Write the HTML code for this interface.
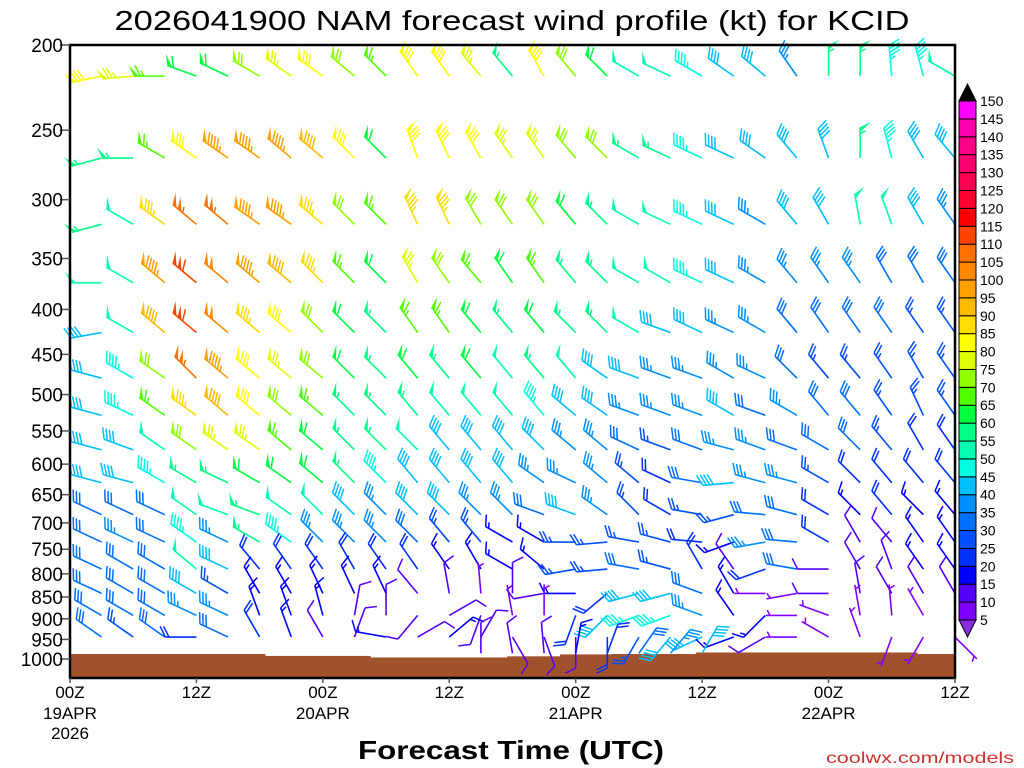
<!DOCTYPE html>
<html><head><meta charset="utf-8"><style>
html,body{margin:0;padding:0;background:#fff;}
svg{display:block;font-family:"Liberation Sans",sans-serif;}
</style></head><body>
<svg id="chart" width="1024" height="768" viewBox="0 0 1024 768" xmlns="http://www.w3.org/2000/svg">
<text x="512" y="30" text-anchor="middle" font-size="28" textLength="795" lengthAdjust="spacingAndGlyphs">2026041900 NAM forecast wind profile (kt) for KCID</text>
<g id="ground"></g>
<g id="barbs"></g>
<g id="axes"></g>
<g id="cbar"></g>
<text x="511" y="759" text-anchor="middle" font-size="26" font-weight="bold" textLength="306" lengthAdjust="spacingAndGlyphs">Forecast Time (UTC)</text>
<text x="1014" y="763" text-anchor="end" font-size="16" fill="#d03030" textLength="188" lengthAdjust="spacingAndGlyphs">coolwx.com/models</text>
</svg>
<script>
const hours=[3,6,9,12,15,18,21,24,27,30,33,36,39,42,45,48,51,54,57,60,63,66,69,72,75,78,81,84];
const levels=[217,269,320,373,425,479,528,578,630,685,736,790,842,892,944,985];
const N=null;
const speedKt=[
[80,75,65,60,60,70,75,80,70,65,80,80,75,55,80,70,60,50,50,45,40,40,35,55,55,45,45,50],
[55,55,65,80,95,95,95,90,80,60,80,80,80,75,75,70,70,55,55,45,40,40,40,40,55,45,40,40],
[55,50,85,105,105,95,95,85,70,65,85,85,70,70,70,60,55,50,50,45,40,35,40,40,50,50,40,35],
[50,50,95,110,100,95,90,85,65,60,75,70,65,60,65,55,55,50,50,45,40,35,35,35,35,30,30,30],
[40,50,90,110,100,85,80,70,60,55,65,65,60,55,60,55,55,50,40,40,35,35,30,30,30,30,25,25],
[40,45,70,105,95,80,75,70,60,55,60,55,60,50,55,50,40,40,35,35,35,35,30,25,25,25,25,25],
[40,45,65,85,90,80,70,65,55,55,55,50,50,50,45,40,40,35,35,35,40,30,35,30,30,25,25,25],
[40,40,50,70,75,75,65,60,55,55,50,40,40,40,40,35,35,30,25,30,35,35,30,30,30,25,20,20],
[40,40,45,55,55,60,60,60,55,45,40,40,40,40,35,35,35,25,20,30,40,35,35,25,20,20,20,20],
[30,30,30,50,50,55,50,50,40,35,40,40,35,35,30,40,35,25,20,25,25,30,30,20,15,20,15,15],
[30,35,30,45,35,55,45,35,35,35,30,25,25,15,15,25,25,25,25,20,15,35,30,20,10,10,15,15],
[30,30,30,50,40,20,20,20,20,20,20,15,15,15,15,25,25,30,25,20,10,20,30,10,10,10,15,15],
[30,30,30,40,25,15,15,15,15,15,10,10,5,10,10,15,20,40,40,30,15,5,5,10,10,10,10,10],
[30,30,30,35,35,15,15,15,10,10,10,10,10,5,5,20,40,45,45,35,15,15,5,5,5,5,5,N],
[30,25,30,20,30,20,15,10,10,15,10,15,10,10,10,10,20,25,40,40,15,10,5,5,5,5,5,5],
[N,N,N,N,N,N,N,N,N,N,N,N,10,10,10,15,20,30,35,40,N,N,N,N,N,N,N,N]
];
const dirDeg=[
[258,265,270,290,295,300,305,305,310,315,325,325,320,320,330,320,315,300,295,300,305,310,325,360,360,355,345,300],
[255,270,300,305,305,305,310,310,315,315,340,335,330,325,325,320,315,300,295,295,295,305,320,340,360,345,330,320],
[255,300,305,310,310,305,305,310,315,315,335,335,330,325,325,320,315,300,295,295,295,300,320,330,350,340,330,325],
[270,300,310,310,310,310,310,315,315,315,330,325,320,325,325,320,315,300,300,295,295,300,320,325,325,330,330,325],
[260,300,310,310,310,310,310,315,315,315,325,325,320,320,320,315,315,300,290,295,295,300,320,325,325,325,325,325],
[285,300,305,315,310,310,310,310,315,315,320,320,320,320,320,320,305,290,290,290,300,295,315,320,320,325,330,325],
[285,295,305,305,310,310,310,310,315,315,320,320,320,320,320,310,305,290,290,290,300,290,300,320,320,325,335,325],
[285,290,305,305,305,305,310,310,315,315,315,320,320,320,315,310,310,295,290,290,285,290,290,300,315,320,330,325],
[285,285,300,300,295,300,305,310,315,315,320,320,320,320,305,295,310,310,295,280,265,285,285,300,315,320,320,320],
[295,295,295,305,290,290,305,315,315,315,315,315,315,315,290,290,305,315,300,280,255,275,285,300,315,320,315,320],
[295,295,295,305,295,300,305,315,315,315,315,320,320,300,300,270,265,280,285,275,250,260,275,300,330,320,325,325],
[295,300,300,310,295,320,325,325,330,325,325,325,330,300,310,260,265,280,285,330,325,250,280,270,330,340,325,325],
[295,300,300,300,300,330,330,335,335,335,320,350,355,360,260,270,230,255,255,290,330,270,260,270,350,330,330,330],
[300,300,300,295,295,340,340,345,10,360,220,60,200,350,360,200,225,250,250,290,325,225,270,290,350,355,330,0],
[305,305,305,270,295,330,340,330,20,280,60,50,30,150,160,180,180,210,220,245,250,240,270,300,340,200,210,135],
[0,0,0,0,0,0,0,0,0,0,0,0,0,350,355,10,20,35,40,30,0,0,0,0,0,0,0,0]
];
const groundHours=[0,18.5,28.5,41.5,46.5,51.4,59.4,80.4,84];
const groundP=[987,992,996,993,988,987,983,987];
const pTicks=[200,250,300,350,400,450,500,550,600,650,700,750,800,850,900,950,1000];
const xTickHours=[0,12,24,36,48,60,72,84];
const xTickLabels=["00Z","12Z","00Z","12Z","00Z","12Z","00Z","12Z"];
const dateLabels=["19APR","","20APR","","21APR","","22APR",""];
const cbarLevels=[5,10,15,20,25,30,35,40,45,50,55,60,65,70,75,80,85,90,95,100,105,110,115,120,125,130,135,140,145,150];
const cbarColors=["#7f00ff","#5500ff","#0000ff","#0030ff","#0050ff","#0070ff","#0090ff","#00bfff","#00ffe0","#00ffb0","#00ff88","#00ff40","#50ff00","#90ff00","#e0ff00","#ffff00","#ffdd00","#ffbb00","#ff9f00","#ff8800","#ff7000","#ff4400","#ff0000","#ff0030","#ff0050","#ff0070","#ff0088","#ff00aa","#ff00ff"];

const NS="http://www.w3.org/2000/svg";
const X0=70,X1=955,Y0=45,Y1=678;
function xs(h){return X0+h*(X1-X0)/84;}
function ys(p){return Y0+381.5*Math.log(p/200);}
function mk(tag,attrs,parent){const e=document.createElementNS(NS,tag);for(const k in attrs)e.setAttribute(k,attrs[k]);parent.appendChild(e);return e;}
function colorFor(s){let i=Math.floor(s/5)-1;if(i<0)i=0;if(i>28)i=28;return cbarColors[i];}

// ground
const gG=document.getElementById('ground');
for(let i=0;i<groundP.length;i++){
  const r=mk('rect',{x:xs(groundHours[i]),y:ys(groundP[i]),width:xs(groundHours[i+1])-xs(groundHours[i])+0.5,height:Y1-ys(groundP[i]),fill:'#a0522d'},gG);
  
  
}

// barbs
const bG=document.getElementById('barbs');
const L=31;
function drawBarb(sx,sy,spd,dir){
  const g=mk('g',{},bG);
  
  
  const c=colorFor(spd);
  const a=dir*Math.PI/180;
  const ux=Math.sin(a),uy=-Math.cos(a);
  const tx=sx+L*ux,ty=sy+L*uy;
  mk('line',{x1:sx,y1:sy,x2:tx,y2:ty,stroke:c,'stroke-width':1.6},g);
  let px=-uy,py=ux;
  let bx=px+0.5*ux,by=py+0.5*uy;const bn=Math.hypot(bx,by);bx/=bn;by/=bn;
  let r=Math.round(spd/5)*5;
  const n50=Math.floor(r/50);r-=n50*50;const n10=Math.floor(r/10);r-=n10*10;const n5=r>=5?1:0;
  let pos=0;
  for(let i=0;i<n50;i++){
    const ax=tx-ux*pos,ay=ty-uy*pos;
    const cx=tx-ux*(pos+5),cy=ty-uy*(pos+5);
    mk('polygon',{points:`${ax},${ay} ${ax+bx*12},${ay+by*12} ${cx},${cy}`,fill:c},g);
    pos+=6.5;
  }
  if(n50===0&&n10===0&&n5)pos=4;
  for(let i=0;i<n10;i++){
    const ax=tx-ux*pos,ay=ty-uy*pos;
    mk('line',{x1:ax,y1:ay,x2:ax+bx*12,y2:ay+by*12,stroke:c,'stroke-width':1.5},g);
    pos+=3.5;
  }
  if(n5){
    const ax=tx-ux*pos,ay=ty-uy*pos;
    mk('line',{x1:ax,y1:ay,x2:ax+bx*6,y2:ay+by*6,stroke:c,'stroke-width':1.5},g);
  }
}
for(let li=0;li<levels.length;li++){
  for(let hi=0;hi<hours.length;hi++){
    const s=speedKt[li][hi];
    if(s===null||s===undefined)continue;
    drawBarb(xs(hours[hi]),ys(levels[li]),s,dirDeg[li][hi]);
  }
}

// axes
const aG=document.getElementById('axes');
const fr=mk('rect',{x:X0,y:Y0,width:X1-X0,height:Y1-Y0,fill:'none',stroke:'#000','stroke-width':2.5},aG);


pTicks.forEach(p=>{
  const y=ys(p);
  const t=mk('line',{x1:60,y1:y,x2:X0,y2:y,stroke:'#555','stroke-width':1.5},aG);
  
  
  const tx=mk('text',{x:63,y:y+7,'text-anchor':'end','font-size':19},aG);
  tx.textContent=p;
  
  
});
xTickHours.forEach((h,i)=>{
  const x=xs(h);
  const t=mk('line',{x1:x,y1:Y1,x2:x,y2:Y1+5,stroke:'#555','stroke-width':1.5},aG);
  
  
  const tx=mk('text',{x:x,y:698,'text-anchor':'middle','font-size':17},aG);
  tx.textContent=xTickLabels[i];
  
  
  if(dateLabels[i]){
    const d=mk('text',{x:x,y:719,'text-anchor':'middle','font-size':17},aG);
    d.textContent=dateLabels[i];
    
    
  }
});
const yr=mk('text',{x:xs(0),y:739,'text-anchor':'middle','font-size':17},aG);
yr.textContent='2026';



// colorbar
const cG=document.getElementById('cbar');
const cx0=959,cw=17,cTop=101,cBot=620;
const bh=(cBot-cTop)/cbarColors.length;
cbarColors.forEach((col,i)=>{
  const y=cBot-(i+1)*bh;
  const r=mk('rect',{x:cx0,y:y,width:cw,height:bh,fill:col,stroke:'#000','stroke-width':1},cG);
  
  
});
const tt=mk('polygon',{points:`${cx0},${cTop} ${cx0+cw},${cTop} ${cx0+cw/2},${cTop-17}`,fill:'#000',stroke:'#000'},cG);


const tb=mk('polygon',{points:`${cx0},${cBot} ${cx0+cw},${cBot} ${cx0+cw/2},${cBot+17}`,fill:'#8a2be2',stroke:'#000'},cG);


cbarLevels.forEach((v,i)=>{
  const y=cBot-i*bh;
  const t=mk('text',{x:980,y:y+5,'font-size':14},cG);
  t.textContent=v;
  
  
});
</script>
</body></html>
